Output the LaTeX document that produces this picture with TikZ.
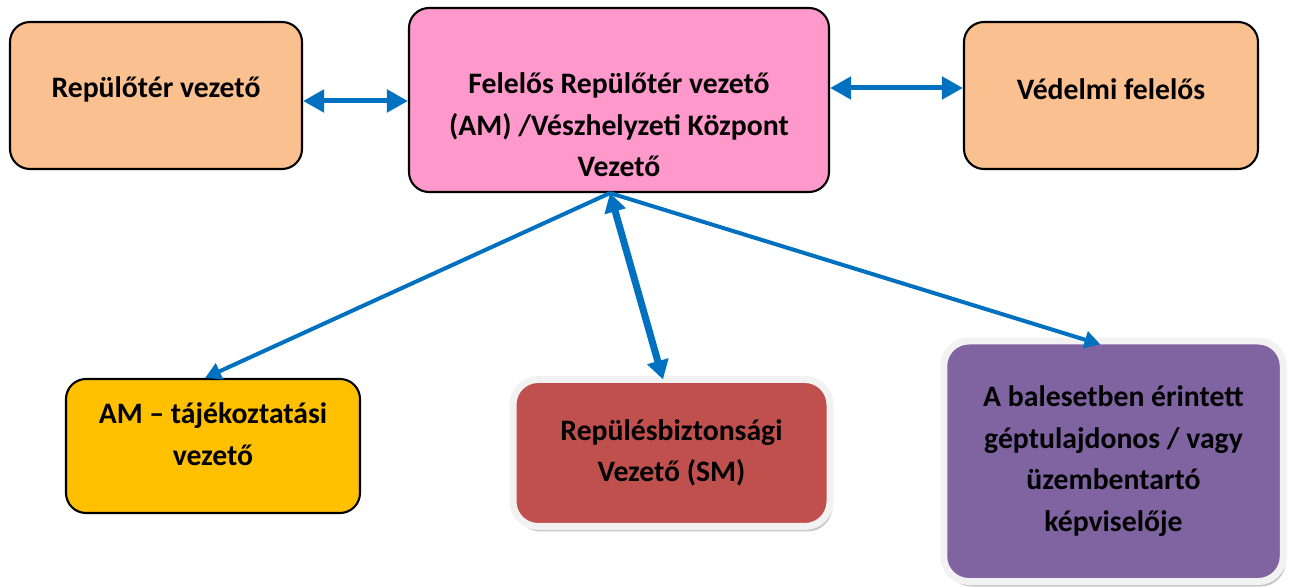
\documentclass[tikz,border=0pt]{standalone}
\usepackage{fontspec}
\setmainfont{Carlito}
\usetikzlibrary{arrows.meta,shadows}
\definecolor{mypeach}{RGB}{250,192,144}
\definecolor{mypink}{RGB}{255,153,204}
\definecolor{myyellow}{RGB}{255,192,0}
\definecolor{myred}{RGB}{192,80,77}
\definecolor{mypurple}{RGB}{128,100,162}
\definecolor{myblue}{RGB}{0,112,192}
\definecolor{myframe}{RGB}{242,242,242}

\tikzset{
    box/.style={draw=black, line width=1.2pt, rounded corners=0.4cm, inner sep=0pt},
    framedbox/.style={draw=myframe, line width=0.14cm, rounded corners=0.5cm, inner sep=0pt,
        drop shadow={shadow xshift=0.05cm, shadow yshift=-0.1cm, fill=gray!55, opacity=0.8}},
    boxtext/.style={align=center, inner sep=0pt,
        font=\fontsize{16.9}{23.6}\selectfont\bfseries},
    bigarrow/.style={draw=myblue, line width=0.1cm,
        {Triangle[length=0.42cm, width=0.44cm]}-{Triangle[length=0.42cm, width=0.44cm]}},
    thinarrow/.style={draw=myblue, line width=0.08cm, -{Triangle[length=0.32cm, width=0.34cm]}},
    thickarrow/.style={draw=myblue, line width=0.14cm,
        {Triangle[length=0.38cm, width=0.42cm]}-{Triangle[length=0.38cm, width=0.42cm]}},
}

\begin{document}
\begin{tikzpicture}
    \useasboundingbox (0, 0) rectangle (25.92, -11.76);
    % Top row
    \node[box, fill=mypeach, minimum width=5.84cm, minimum height=2.94cm]
        (airportmgr) at (3.12, -1.91) {};
    \node[boxtext] (airportmgrtext) at ([yshift=0.12cm]airportmgr.center) {Repülőtér vezető};
    \node[box, fill=mypink, minimum width=8.4cm, minimum height=3.68cm]
        (accmgr) at (12.38, -2.0) {};
    \node[boxtext] (accmgrtext) at ([yshift=-0.5cm]accmgr.center)
        {Felelős Repülőtér vezető\\(AM) /Vészhelyzeti Központ\\Vezető};
    \node[box, fill=mypeach, minimum width=5.88cm, minimum height=2.94cm]
        (secmgr) at (22.22, -1.91) {};
    \node[boxtext] (secmgrtext) at ([yshift=0.12cm]secmgr.center) {Védelmi felelős};
    % Bottom row
    \node[box, fill=myyellow, minimum width=5.88cm, minimum height=2.68cm]
        (infomgr) at (4.26, -8.92) {};
    \node[boxtext] (infomgrtext) at ([yshift=0.24cm]infomgr.center) {AM – tájékoztatási\\vezető};
    \node[framedbox, fill=myred, minimum width=6.34cm, minimum height=2.94cm]
        (safetymgr) at (13.43, -9.06) {};
    \node[boxtext] (safetymgrtext) at (safetymgr.center) {Repülésbiztonsági\\Vezető (SM)};
    \node[framedbox, fill=mypurple, minimum width=6.79cm, minimum height=4.81cm]
        (operator) at (22.27, -9.225) {};
    \node[boxtext] (operatortext) at (operator.center)
        {A balesetben érintett\\géptulajdonos / vagy\\üzembentartó\\képviselője};
    % Connectors
    \coordinate (hub) at ([xshift=-0.18cm]accmgr.south);
    \draw[bigarrow] ([yshift=-0.11cm]airportmgr.east) -- ([yshift=-0.11cm]airportmgr.east -| accmgr.west);
    \draw[bigarrow] ([yshift=0.15cm]secmgr.west -| accmgr.east) -- ([yshift=0.15cm]secmgr.west);
    \draw[thinarrow] (hub) -- ([xshift=-0.16cm]infomgr.north);
    \draw[thickarrow] (hub) -- ([xshift=-0.17cm, yshift=-0.07cm]safetymgr.north);
    \draw[thinarrow] (hub) -- ([xshift=-0.26cm, yshift=-0.14cm]operator.north);
\end{tikzpicture}
\end{document}
